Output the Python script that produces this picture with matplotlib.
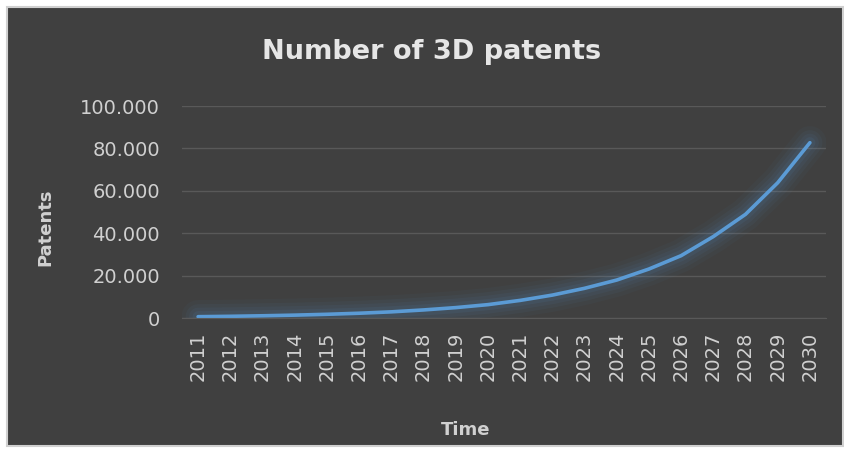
import matplotlib
matplotlib.use('Agg')

import matplotlib.pyplot as plt
from matplotlib.patches import Rectangle
from matplotlib.ticker import FuncFormatter

# --- Data ---
years = ['2011', '2012', '2013', '2014', '2015', '2016', '2017', '2018', '2019', '2020',
         '2021', '2022', '2023', '2024', '2025', '2026', '2027', '2028', '2029', '2030']
patents = [620, 800, 1050, 1350, 1750, 2250, 2900, 3800, 4900, 6300,
           8300, 10800, 14000, 17900, 23100, 29400, 38400, 48900, 63800, 82700]
y_ticks = [0, 20000, 40000, 60000, 80000, 100000]

BG = '#404040'
TEXT = '#d0d0d0'
LINE = '#5b9bd5'

plt.rcParams['font.family'] = ['DejaVu Sans']

fig = plt.figure(figsize=(8.45, 4.49), dpi=100)
fig.patch.set_facecolor('white')
fig.patches.append(Rectangle((7 / 845, 3 / 449), 836 / 845, 439 / 449,
                             transform=fig.transFigure, facecolor=BG,
                             edgecolor='#d0d0d0', linewidth=1.5, zorder=-10))

ax = fig.add_axes([182 / 845, 131 / 449, 644 / 845, 212 / 449])
ax.set_facecolor('none')

x = range(len(years))

# soft glow under the line
for lw, a in [(24, 0.035), (18, 0.05), (13, 0.06), (8, 0.08)]:
    ax.plot(x, patents, color=LINE, linewidth=lw, alpha=a,
            solid_capstyle='round', solid_joinstyle='round')
ax.plot(x, patents, color=LINE, linewidth=2.6,
        solid_capstyle='round', solid_joinstyle='round')

ax.set_xlim(-0.5, len(years) - 0.5)
ax.set_ylim(0, 100000)
ax.set_yticks(y_ticks)
ax.yaxis.set_major_formatter(FuncFormatter(lambda v, p: f'{int(v):,}'.replace(',', '.')))
ax.set_xticks(list(x))
ax.set_xticklabels(years, rotation=90)

ax.grid(axis='y', color='#595959', linewidth=1.0)
ax.set_axisbelow(True)
for side in ['top', 'right', 'left']:
    ax.spines[side].set_visible(False)
ax.spines['bottom'].set_color('#595959')
ax.tick_params(axis='both', length=0, colors=TEXT, labelsize=14)
ax.tick_params(axis='y', pad=16)
ax.tick_params(axis='x', pad=10)

fig.text(432 / 845, 1 - 52 / 449, 'Number of 3D patents', ha='center', va='center',
         fontsize=19.5, fontweight='bold', color='#e6e6e6')
fig.text(45 / 845, 1 - 227 / 449, 'Patents', ha='center', va='center', rotation=90,
         fontsize=13, fontweight='bold', color=TEXT)
fig.text(466 / 845, 1 - 430 / 449, 'Time', ha='center', va='center',
         fontsize=13, fontweight='bold', color=TEXT)

fig.savefig('out.png', dpi=100, facecolor=fig.get_facecolor())
plt.close(fig)
